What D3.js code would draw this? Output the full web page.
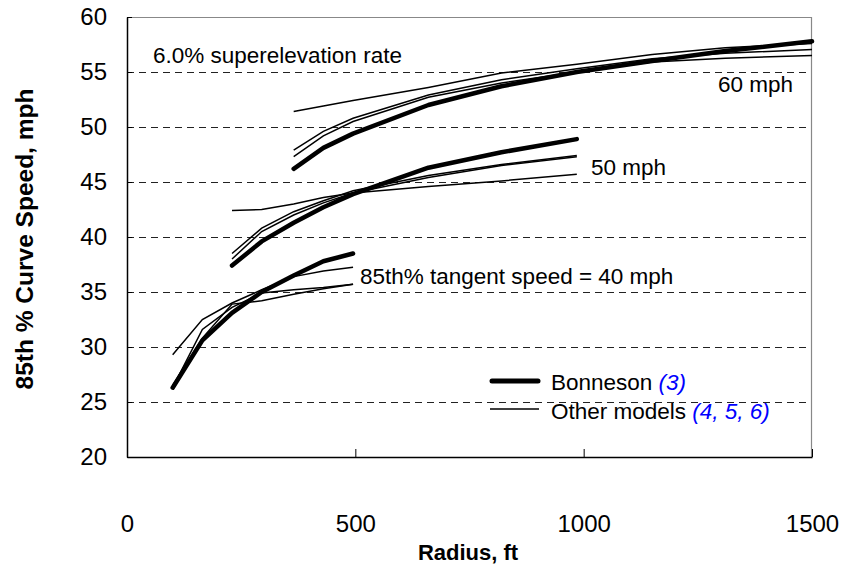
<!DOCTYPE html>
<html>
<head>
<meta charset="utf-8">
<script src="https://cdn.jsdelivr.net/npm/d3@7"></script>
<style>
  body { margin: 0; background: #fff; }
  text { font-family: "Liberation Sans", Arial, sans-serif; }
</style>
</head>
<body>
<div id="my_dataviz"></div>
<script>
// data: radius (ft) and 85th % curve speed (mph)
var radii40 = [100, 165, 230, 295, 365, 430, 495];
var bonneson40 = [26.3, 30.6, 33.1, 35.0, 36.5, 37.8, 38.5];
var other40a = [29.3, 32.5, 34.0, 35.2, 36.4, 36.9, 37.25];
var other40b = [26.3, 31.6, 33.6, 34.9, 35.2, 35.4, 35.7];
var other40c = [26.5, 30.8, 33.9, 34.2, 34.8, 35.3, 35.7];

var radii50 = [230, 295, 365, 430, 495, 660, 820, 985];
var bonneson50 = [37.4, 39.6, 41.3, 42.7, 43.9, 46.3, 47.7, 48.9];
var other50a = [38.5, 40.8, 42.3, 43.3, 44.2, 45.6, 46.6, 47.4];
var other50b = [38.0, 40.5, 42.0, 43.1, 44.0, 45.4, 46.5, 47.3];
var other50c = [42.4, 42.5, 43.0, 43.6, 44.0, 44.6, 45.1, 45.7];

var radii60 = [365, 430, 495, 660, 820, 985, 1150, 1310, 1500];
var bonneson60 = [46.2, 48.1, 49.4, 52.0, 53.7, 55.0, 56.0, 56.9, 57.8];
var other60a = [51.4, 51.9, 52.4, 53.6, 54.9, 55.7, 56.6, 57.2, 57.6];
var other60b = [47.9, 49.6, 50.8, 52.9, 54.3, 55.3, 56.2, 56.7, 57.05];
var other60c = [47.3, 49.2, 50.5, 52.7, 54.0, 55.0, 55.9, 56.25, 56.5];

var xTicks = [0, 500, 1000, 1500];
var yTicks = [20, 25, 30, 35, 40, 45, 50, 55, 60];
var gridTicks = [25, 30, 35, 40, 45, 50, 55];

var thinSeries = [
  [radii40, other40a], [radii40, other40b], [radii40, other40c],
  [radii50, other50a], [radii50, other50b], [radii50, other50c],
  [radii60, other60a], [radii60, other60b], [radii60, other60c]
];
var thickSeries = [[radii40, bonneson40], [radii50, bonneson50], [radii60, bonneson60]];

// set the dimensions and margins of the graph
var margin = { top: 17, right: 32, bottom: 112, left: 127 },
    width = 844 - margin.left - margin.right,
    height = 569 - margin.top - margin.bottom;

var root = d3.select("#my_dataviz")
    .append("svg")
    .attr("width", 844)
    .attr("height", 569);

var svg = root.append("g")
    .attr("transform", "translate(" + margin.left + "," + margin.top + ")");

var x = d3.scaleLinear().domain([0, 1500]).range([0, width]);
var y = d3.scaleLinear().domain([20, 60]).range([height, 0]);

// dashed gridlines
svg.selectAll(".grid")
    .data(gridTicks)
    .enter()
    .append("line")
    .attr("x1", 0)
    .attr("x2", width)
    .attr("y1", function(d) { return y(d) + 0.5; })
    .attr("y2", function(d) { return y(d) + 0.5; })
    .attr("stroke", "#222")
    .attr("stroke-width", 1)
    .attr("shape-rendering", "crispEdges")
    .attr("stroke-dasharray", "7,5");

// top and right border
svg.append("path")
    .attr("d", "M0,0.5H" + (width - 0.5) + "V" + height)
    .attr("fill", "none")
    .attr("stroke", "#888")
    .attr("stroke-width", 1.2);

// axes
var yAxis = svg.append("g")
    .call(d3.axisLeft(y).tickValues(yTicks).tickSizeInner(-5).tickSizeOuter(0).tickPadding(20));
var xAxis = svg.append("g")
    .attr("transform", "translate(0," + height + ")")
    .call(d3.axisBottom(x).tickValues(xTicks).tickFormat(d3.format("d"))
      .tickSizeInner(-8).tickSizeOuter(0).tickPadding(58));

[xAxis, yAxis].forEach(function(a) {
  a.select(".domain").attr("stroke", "#000").attr("stroke-width", 1.5);
  a.selectAll(".tick line").attr("stroke", "#000");
  a.selectAll("text")
      .attr("font-size", 24)
      .attr("font-family", "Liberation Sans, Arial, sans-serif")
      .attr("fill", "#000");
});

// lines
var line = d3.line()
    .x(function(d) { return x(d[0]); })
    .y(function(d) { return y(d[1]); });

function pairs(s) {
  return s[0].map(function(r, i) { return [r, s[1][i]]; });
}

svg.selectAll(".thin")
    .data(thinSeries)
    .enter()
    .append("path")
    .attr("d", function(s) { return line(pairs(s)); })
    .attr("fill", "none")
    .attr("stroke", "#000")
    .attr("stroke-width", 1.5);

svg.selectAll(".thick")
    .data(thickSeries)
    .enter()
    .append("path")
    .attr("d", function(s) { return line(pairs(s)); })
    .attr("fill", "none")
    .attr("stroke", "#000")
    .attr("stroke-width", 4.5)
    .attr("stroke-linecap", "round")
    .attr("stroke-linejoin", "round");

// annotations
function label(px, py, txt) {
  root.append("text")
      .attr("x", px)
      .attr("y", py)
      .attr("font-size", 22.5)
      .text(txt);
}
label(153, 63, "6.0% superelevation rate");
label(718, 92, "60 mph");
label(591, 175, "50 mph");
label(360, 284, "85th% tangent speed = 40 mph");

// legend
root.append("line")
    .attr("x1", 492).attr("x2", 538)
    .attr("y1", 381).attr("y2", 381)
    .attr("stroke", "#000").attr("stroke-width", 5).attr("stroke-linecap", "round");
root.append("line")
    .attr("x1", 490).attr("x2", 539)
    .attr("y1", 409).attr("y2", 409)
    .attr("stroke", "#000").attr("stroke-width", 1.5);

var leg1 = root.append("text").attr("x", 551).attr("y", 390).attr("font-size", 22.5);
leg1.append("tspan").text("Bonneson ");
leg1.append("tspan").attr("fill", "#0000ff").attr("font-style", "italic").text("(3)");

var leg2 = root.append("text").attr("x", 551).attr("y", 419).attr("font-size", 22.5);
leg2.append("tspan").text("Other models ");
leg2.append("tspan").attr("fill", "#0000ff").attr("font-style", "italic").text("(4, 5, 6)");

// axis titles
root.append("text")
    .attr("x", 468)
    .attr("y", 560)
    .attr("text-anchor", "middle")
    .attr("font-size", 22)
    .attr("font-weight", "bold")
    .text("Radius, ft");

root.append("text")
    .attr("transform", "translate(33,239) rotate(-90)")
    .attr("text-anchor", "middle")
    .attr("font-size", 24.5)
    .attr("font-weight", "bold")
    .text("85th % Curve Speed, mph");
</script>
</body>
</html>
